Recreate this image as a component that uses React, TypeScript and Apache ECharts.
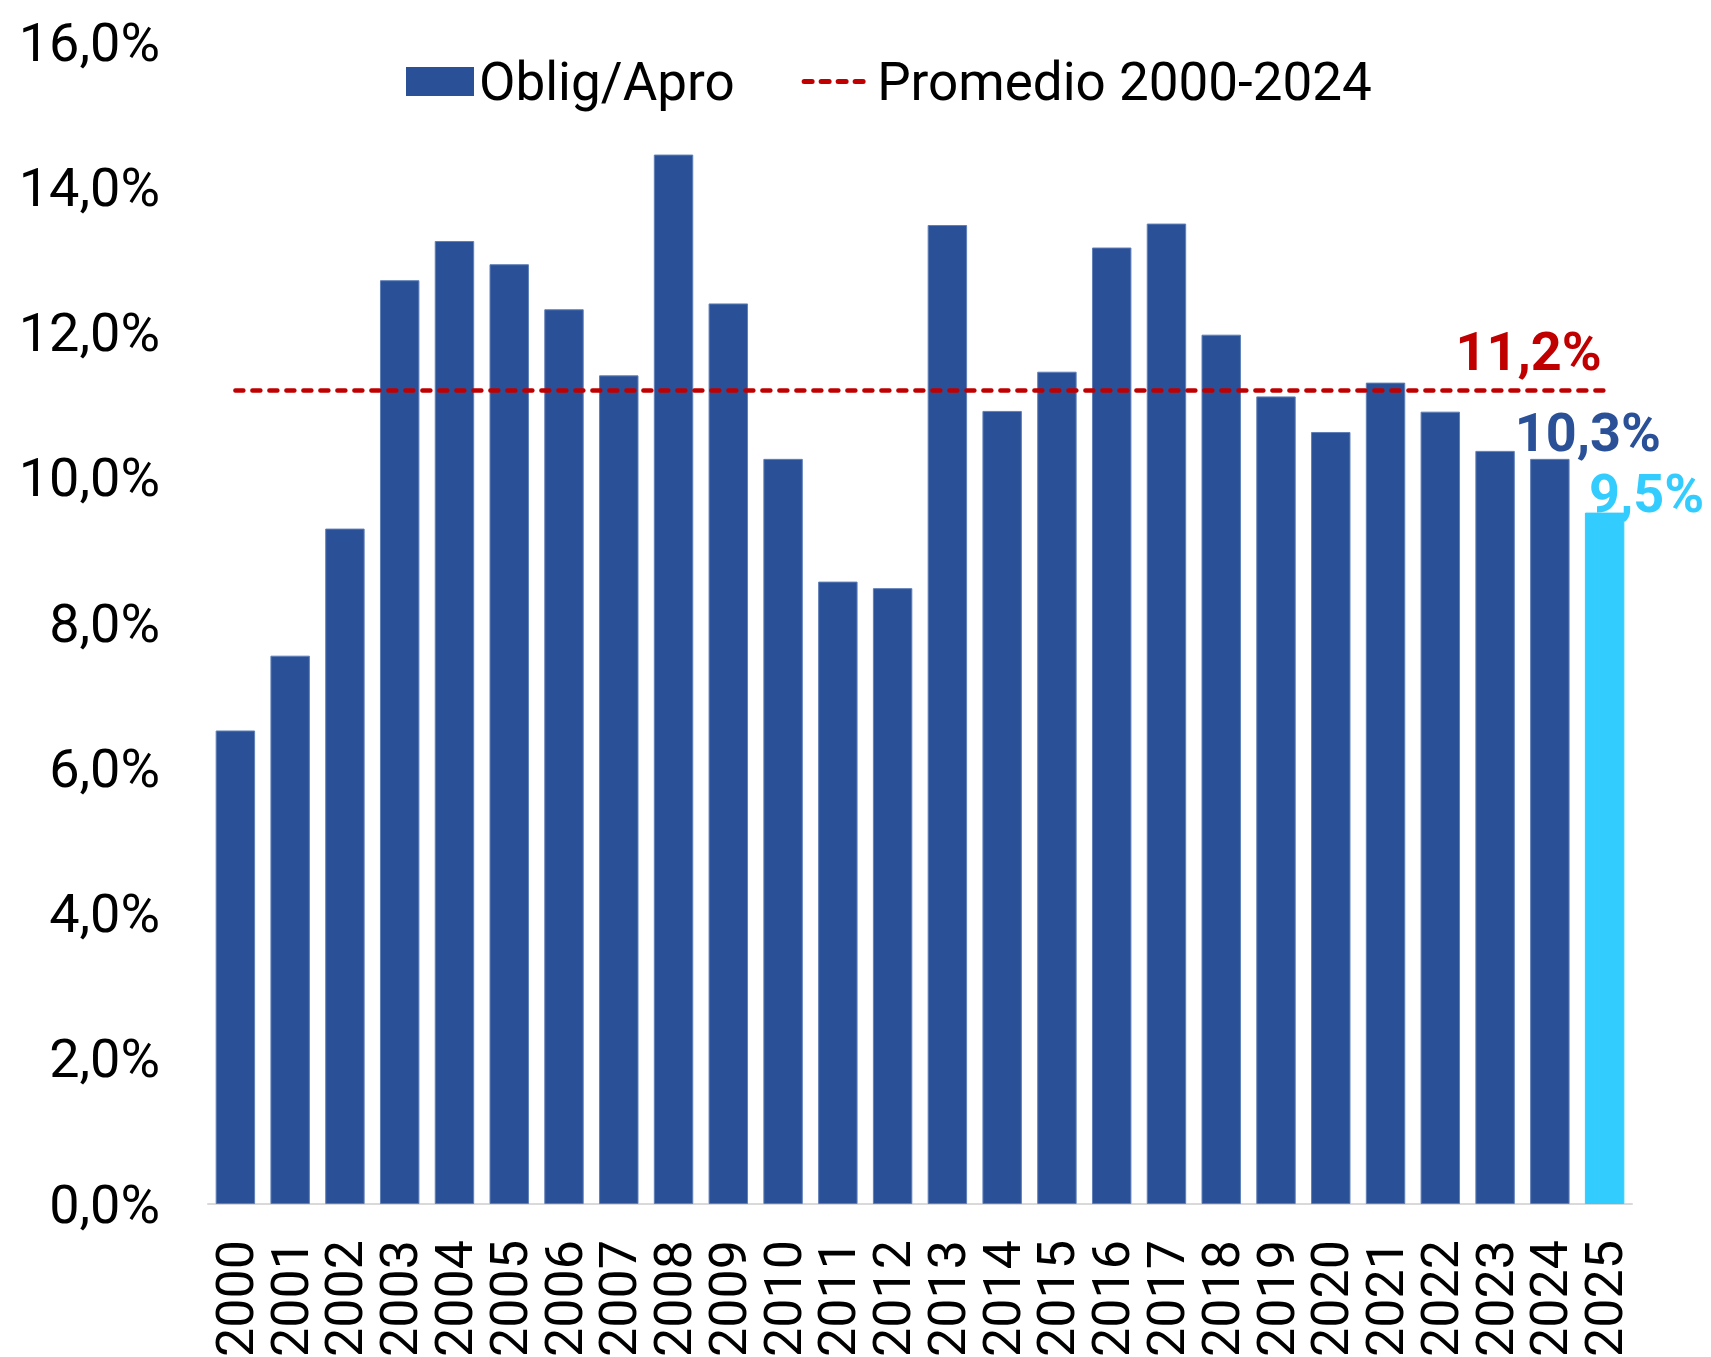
import React, { useEffect, useRef } from "react";
import * as echarts from "echarts";

const years = ["2000","2001","2002","2003","2004","2005","2006","2007","2008","2009","2010","2011","2012","2013","2014","2015","2016","2017","2018","2019","2020","2021","2022","2023","2024","2025"];
const obligApro = [6.52, 7.55, 9.3, 12.72, 13.26, 12.94, 12.32, 11.41, 14.45, 12.4, 10.26, 8.57, 8.48, 13.48, 10.92, 11.46, 13.17, 13.5, 11.97, 11.12, 10.63, 11.31, 10.91, 10.37, 10.26, 9.52];
const average = 11.2;
const averageLine = years.map(() => average);
const yTicks = { min: 0, max: 16, interval: 2 };

const DARK = "#2A5097";
const CYAN = "#33CCFF";
const RED = "#C00000";
const FONT = "Roboto";
const FS = 54;

const fmt = (v: number) => v.toFixed(1).replace(".", ",") + "%";

export default function App() {
  const ref = useRef<HTMLDivElement>(null);
  useEffect(() => {
    if (!ref.current) return;
    const chart = echarts.init(ref.current, null, { renderer: "svg" });
    const last = years.length - 1;
    const barData = obligApro.map((v, i) => {
      if (i === last) {
        return {
          value: v,
          itemStyle: { color: CYAN, borderColor: CYAN },
          label: { show: true, position: "top", offset: [42, 13], color: CYAN, fontWeight: "bold", fontSize: FS, fontFamily: FONT, formatter: (p: any) => fmt(p.value) },
        };
      }
      if (i === last - 1) {
        return {
          value: v,
          label: { show: true, position: "top", offset: [38, 6], color: DARK, fontWeight: "bold", fontSize: FS, fontFamily: FONT, formatter: (p: any) => fmt(p.value) },
        };
      }
      return v;
    });
    const lineData = averageLine.map((v, i) =>
      i === last
        ? {
            value: v,
            label: { show: true, position: "top", offset: [-76, -7], color: RED, fontWeight: "bold", fontSize: FS, fontFamily: FONT, formatter: (p: any) => fmt(p.value) },
          }
        : v
    );
    chart.setOption({
      animation: false,
      backgroundColor: "#ffffff",
      textStyle: { fontFamily: FONT },
      grid: { left: 208, right: 79, top: 42, bottom: 153, containLabel: false, outerBoundsMode: "none" },
      legend: {
        left: 401,
        top: 50,
        itemWidth: 68,
        itemHeight: 29,
        itemGap: 67,
        textStyle: { fontSize: 53, color: "#000", fontFamily: FONT },
        data: [
          { name: "Oblig/Apro", icon: "rect", itemStyle: { borderWidth: 0 } },
          {
            name: "Promedio 2000-2024",
            itemStyle: { opacity: 0 },
            lineStyle: { color: RED, width: 5, type: [8, 9], cap: "round" },
          },
        ],
      },
      xAxis: {
        type: "category",
        data: years,
        axisTick: { show: false },
        axisLine: { lineStyle: { color: "#D9D9D9", width: 2 } },
        axisLabel: { rotate: 90, interval: 0, fontSize: 52, color: "#000", margin: 36, fontFamily: FONT },
      },
      yAxis: {
        type: "value",
        min: yTicks.min,
        max: yTicks.max,
        interval: yTicks.interval,
        splitLine: { show: false },
        axisLine: { show: false },
        axisTick: { show: false },
        axisLabel: { fontSize: FS, color: "#000", margin: 48, fontFamily: FONT, formatter: (v: number) => fmt(v) },
      },
      series: [
        {
          name: "Oblig/Apro",
          type: "bar",
          data: barData,
          barCategoryGap: "28%",
          itemStyle: { color: DARK, borderColor: "#5f7fb8", borderWidth: 1 },
          z: 2,
        },
        {
          name: "Promedio 2000-2024",
          type: "line",
          data: lineData,
          symbol: "circle",
          symbolSize: 0,
          showSymbol: true,
          lineStyle: { color: RED, width: 4.5, type: [8, 9], cap: "round" },
          itemStyle: { color: RED },
          z: 3,
        },
      ],
    });
    return () => chart.dispose();
  }, []);
  return <div ref={ref} style={{ position: "fixed", left: 0, top: 0, width: 1711, height: 1357 }} />;
}
